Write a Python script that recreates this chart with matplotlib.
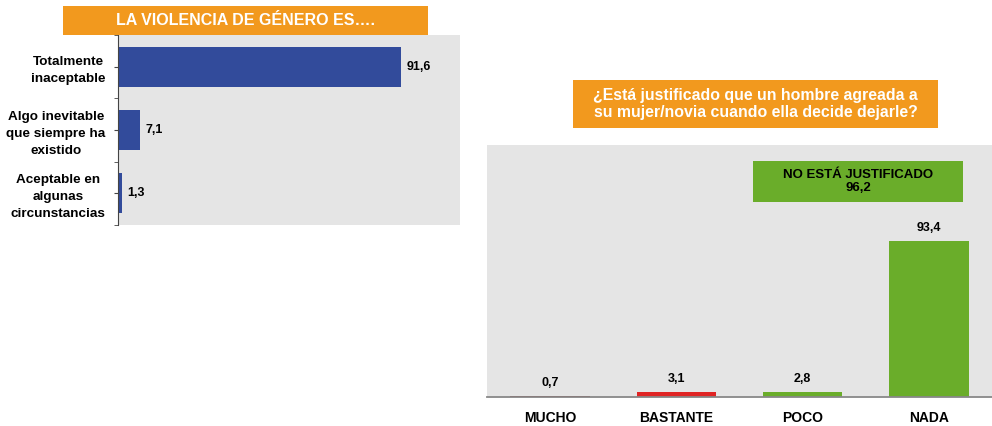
import matplotlib
matplotlib.use('Agg')
import matplotlib.pyplot as plt
from matplotlib.patches import Rectangle

plt.rcParams['font.family'] = ['Liberation Sans', 'DejaVu Sans']

# left chart data
opciones = ['Totalmente\ninaceptable', 'Algo inevitable\nque siempre ha\nexistido',
            'Aceptable en\nalgunas\ncircunstancias']
valores_izq = [91.6, 7.1, 1.3]

# right chart data
grados = ['MUCHO', 'BASTANTE', 'POCO', 'NADA']
valores_der = [0.7, 3.1, 2.8, 93.4]
colores_der = ['#8b1a1a', '#e02424', '#6aad2a', '#6aad2a']

titulo_izq = 'LA VIOLENCIA DE GÉNERO ES….'
titulo_der = '¿Está justificado que un hombre agreada a\nsu mujer/novia cuando ella decide dejarle?'
caja_verde = 'NO ESTÁ JUSTIFICADO\n96,2'

W, H = 992, 426
fig = plt.figure(figsize=(W / 100, H / 100), dpi=100)
bg = '#e5e5e5'
orange = '#f2991e'


def fbox(x0, y0, x1, y1):
    # pixel box -> figure fraction (left, bottom, width, height)
    return x0 / W, 1 - y1 / H, (x1 - x0) / W, (y1 - y0) / H


def label_box(px, color, text, tcolor, size):
    l, b, w, h = fbox(*px)
    fig.patches.append(Rectangle((l, b), w, h, transform=fig.transFigure,
                                 facecolor=color, edgecolor='none', zorder=5))
    fig.text(l + w / 2, b + h / 2, text, ha='center', va='center', color=tcolor,
             fontsize=size, fontweight='bold', linespacing=1.15, zorder=6)


# ---- left: horizontal bars
ax1 = fig.add_axes(fbox(118, 35, 460, 225))
ax1.set_facecolor(bg)
y = range(len(opciones))
ax1.barh(y, valores_izq, height=0.63, color='#324b9b')
ax1.set_xlim(0, 110.7)
ax1.set_ylim(2.5, -0.5)
ax1.set_yticks(list(y))
ax1.set_yticklabels(opciones, fontsize=9.7, fontweight='bold', ha='right',
                    multialignment='center', linespacing=1.55)
ax1.tick_params(axis='y', pad=6, length=3, color='#444444')
ax1.set_yticks([-0.5, 0.5, 1.5, 2.5], minor=True)
ax1.tick_params(axis='y', which='minor', length=3, color='#444444')
ax1.set_xticks([])
for s in ['top', 'right', 'bottom']:
    ax1.spines[s].set_visible(False)
ax1.spines['left'].set_color('#444444')
for i, v in enumerate(valores_izq):
    ax1.annotate(f'{v:.1f}'.replace('.', ','), (v, i), xytext=(4, 0),
                 textcoords='offset points', va='center', ha='left',
                 fontsize=9, fontweight='bold')

label_box((63, 6, 428, 35), orange, titulo_izq, 'white', 11.5)

# ---- right: vertical bars
ax2 = fig.add_axes(fbox(487, 145, 992, 397))
ax2.set_facecolor(bg)
x = range(len(grados))
ax2.bar(x, valores_der, width=0.63, color=colores_der)
ax2.set_xlim(-0.5, 3.5)
ax2.set_ylim(0, 150.9)
ax2.set_xticks(list(x))
ax2.set_xticklabels(grados, fontsize=10, fontweight='bold')
ax2.tick_params(axis='x', length=0, pad=10)
ax2.set_yticks([])
for s in ['top', 'right', 'left']:
    ax2.spines[s].set_visible(False)
ax2.spines['bottom'].set_color('#888888')
ax2.spines['bottom'].set_linewidth(1.3)
for i, v in enumerate(valores_der):
    ax2.annotate(f'{v:.1f}'.replace('.', ','), (i, v), xytext=(0, 5),
                 textcoords='offset points', ha='center', va='bottom',
                 fontsize=9, fontweight='bold')

label_box((573, 80, 938, 128), orange, titulo_der, 'white', 11.4)
label_box((753, 161, 963, 202), '#6aad2a', caja_verde, 'black', 9.5)

fig.savefig('out.png', dpi=100, facecolor='white')
